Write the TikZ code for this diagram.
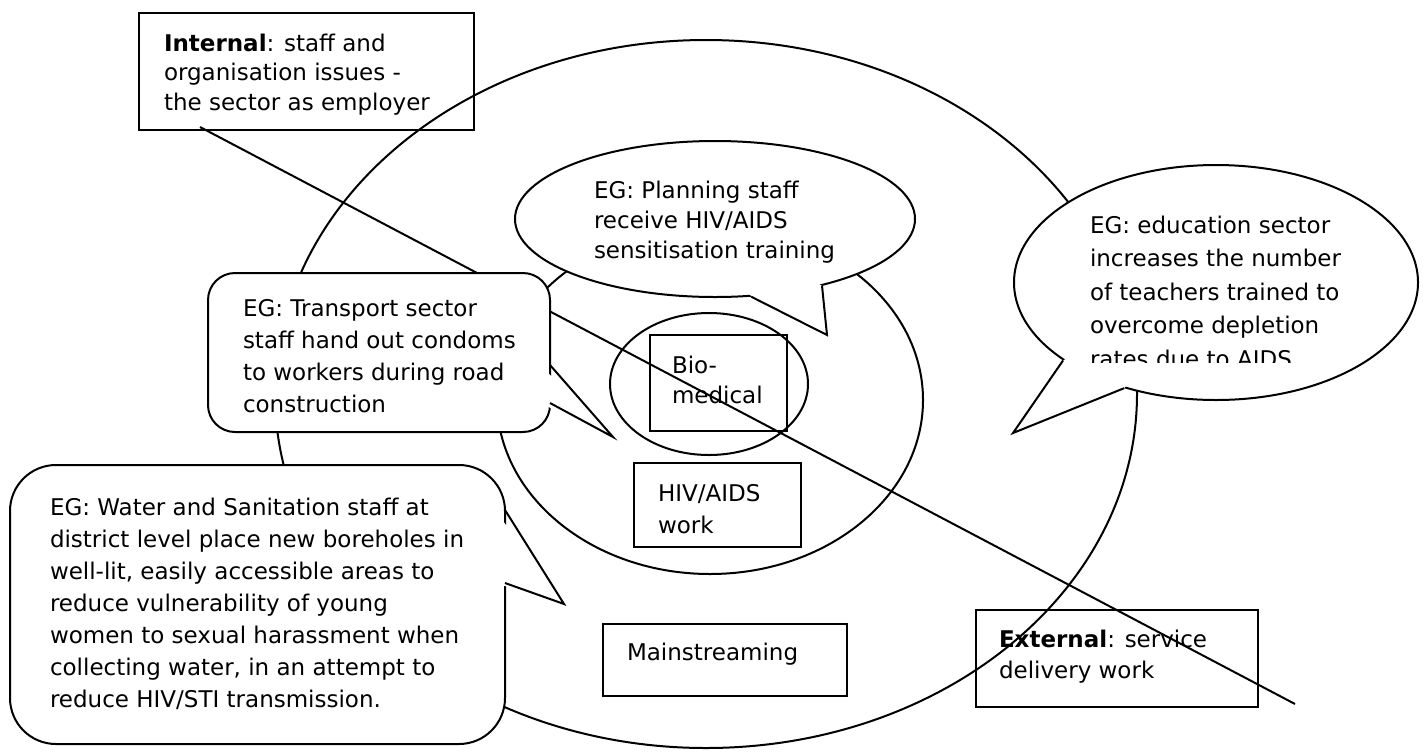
\documentclass[tikz,border=0pt]{standalone}
\usepackage{fontspec}
\setmainfont{DejaVu Sans}
\usetikzlibrary{shapes.geometric}

\begin{document}
\begin{tikzpicture}[x=0.5pt,y=-0.5pt,line width=1pt,
  ring/.style={ellipse,draw,inner sep=0pt},
  box/.style={rectangle,draw,inner sep=0pt},
  bubble/.style={rectangle,draw,fill=white,rounded corners=13.5pt,inner sep=0pt},
  balloon/.style={ellipse,draw,fill=white,inner sep=0pt},
  txt/.style={anchor=north west,inner sep=0pt,align=left,font=\fontsize{11.5}{#1}\selectfont},
  txt/.default=16]
\useasboundingbox (0,0) rectangle (1423,751);

\node[ring,minimum width=431pt,minimum height=354pt] (outer) at (706,394) {};
\node[ring,minimum width=213pt,minimum height=174pt] (middle) at (710,400) {};
\node[ring,minimum width=99pt,minimum height=71pt] (inner) at (709,384) {};

\node[box,minimum width=167.5pt,minimum height=58.5pt] (internal) at (306.5,71.5) {};
\node[box,minimum width=68.5pt,minimum height=48pt] (bio) at (718.5,383) {};
\node[box,minimum width=83.5pt,minimum height=42pt] (hiv) at (717.5,505) {};
\node[box,minimum width=122pt,minimum height=36pt] (main) at (725,660) {};
\node[box,minimum width=141pt,minimum height=48.5pt] (external) at (1117,658.5) {};

\node[txt=14.75] (internaltext) at (163,33) {\textbf{Internal}: staff and\\organisation issues -\\the sector as employer};
\node[txt=15] (biotext) at (671,355) {Bio-\\medical};
\node[txt] (hivtext) at (657,483) {HIV/AIDS\\work};
\node[txt] (maintext) at (626,642) {Mainstreaming};
\node[txt=15.3] (externaltext) at (998,629) {\textbf{External}: service\\delivery work};

\coordinate (from) at (200,127);
\coordinate (to) at (1295,704);
\draw (from) -- (to);

\node[balloon,minimum width=200pt,minimum height=78pt] (planning) at (715,219) {};
\fill[white] (planning.295) -- (827,335) -- (planning.328) -- (planning.center) -- cycle;
\draw (planning.295) -- (827,335) -- (planning.328);
\node[txt=15] (planningtext) at (593,180) {EG: Planning staff\\receive HIV/AIDS\\sensitisation training};

\node[balloon,minimum width=202pt,minimum height=117.5pt] (education) at (1216,282.5) {};
\fill[white] (education.207) -- (1013,433) -- (education.229) -- (education.center) -- cycle;
\draw (education.207) -- (1013,433) -- (education.229);
\begin{scope}
\clip (1000,150) rectangle (1423,362);
\node[txt=16.75] (edutext) at (1089,215) {EG: education sector\\increases the number\\of teachers trained to\\overcome depletion\\rates due to AIDS};
\end{scope}

\node[bubble,minimum width=171pt,minimum height=79.5pt] (transport) at (379,352.5) {};
\fill[white] (540,365) -- (613,437) -- (540,403) -- cycle;
\draw (550,365) -- (613,437) -- (550,403);
\node[txt] (transporttext) at (242,298) {EG: Transport sector\\staff hand out condoms\\to workers during road\\construction};

\node[bubble,rounded corners=23pt,minimum width=247.5pt,minimum height=139.5pt] (water) at (257.5,604.5) {};
\fill[white] (495,510) -- (564,604) -- (495,583) -- cycle;
\draw (505,510) -- (564,604) -- (505,583);
\node[txt] (watertext) at (49,497) {EG: Water and Sanitation staff at\\district level place new boreholes in\\well-lit, easily accessible areas to\\reduce vulnerability of young\\women to sexual harassment when\\collecting water, in an attempt to\\reduce HIV/STI transmission.};

\end{tikzpicture}
\end{document}
